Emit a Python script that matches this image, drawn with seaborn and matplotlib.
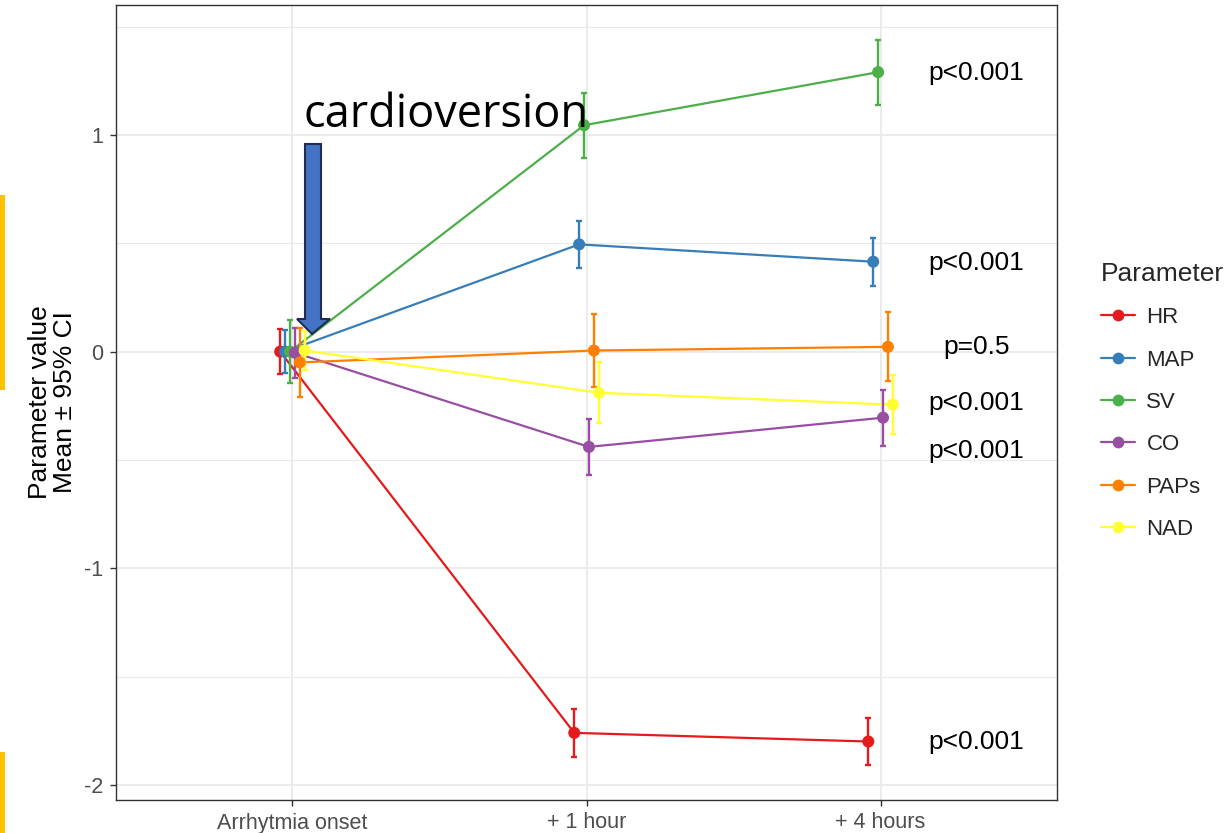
import numpy as np
import pandas as pd
import matplotlib
matplotlib.use("Agg")
import matplotlib.pyplot as plt
import seaborn as sns
from matplotlib.lines import Line2D
from matplotlib.patches import Polygon, Rectangle

# ---------------- data ----------------
categories = ["Arrhytmia onset", "+ 1 hour", "+ 4 hours"]
params = ["HR", "MAP", "SV", "CO", "PAPs", "NAD"]
colors = ["#E41A1C", "#377EB8", "#4DAF4A", "#984EA3", "#FF7F00", "#FFFF33"]

HR_mean = [0.0, -1.76, -1.80]
MAP_mean = [0.0, 0.495, 0.415]
SV_mean = [0.0, 1.045, 1.29]
CO_mean = [-0.005, -0.44, -0.305]
PAPs_mean = [-0.05, 0.005, 0.022]
NAD_mean = [0.005, -0.19, -0.245]

HR_ci = [0.105, 0.11, 0.11]
MAP_ci = [0.10, 0.11, 0.11]
SV_ci = [0.145, 0.15, 0.15]
CO_ci = [0.115, 0.13, 0.13]
PAPs_ci = [0.16, 0.17, 0.16]
NAD_ci = [0.09, 0.14, 0.135]

p_labels = ["p<0.001", "p<0.001", "p=0.5", "p<0.001", "p<0.001", "p<0.001"]

means = [HR_mean, MAP_mean, SV_mean, CO_mean, PAPs_mean, NAD_mean]
cis = [HR_ci, MAP_ci, SV_ci, CO_ci, PAPs_ci, NAD_ci]

dodge_width = 0.1
rows = []
for gi, (p, m, c) in enumerate(zip(params, means, cis)):
    off = (gi - (len(params) - 1) / 2) * dodge_width / len(params)
    for ci_, cat in enumerate(categories):
        rows.append(dict(Parameter=p, Time=cat, x=ci_ + off, mean=m[ci_], ci=c[ci_]))
df = pd.DataFrame(rows)

# ---------------- figure ----------------
sns.set_theme(style="white")
plt.rcParams["font.family"] = ["Liberation Sans", "DejaVu Sans"]

W, H = 1229, 833
fig = plt.figure(figsize=(W / 100, H / 100), dpi=100)
ax = fig.add_axes([116 / W, 1 - 800 / H, (1057 - 116) / W, (800 - 5) / H])

palette = dict(zip(params, colors))
sns.lineplot(data=df, x="x", y="mean", hue="Parameter", palette=palette,
             hue_order=params, ax=ax, linewidth=1.6, legend=False, zorder=3,
             sort=True, estimator=None)
for p in params:
    sub = df[df.Parameter == p]
    ax.errorbar(sub["x"], sub["mean"], yerr=sub["ci"], fmt="none",
                ecolor=palette[p], elinewidth=1.7, capsize=2.2, capthick=1.7, zorder=4)
    ax.scatter(sub["x"], sub["mean"], s=75, color=palette[p], edgecolor="none", zorder=5)

ax.set_xlim(-0.6, 2.6)
ax.set_ylim(-2.07, 1.60)
ax.set_xticks(range(len(categories)))
ax.set_xticklabels(categories)
ax.set_yticks([-2, -1, 0, 1])
ax.set_yticklabels(["-2", "-1", "0", "1"])
ax.set_yticks([-1.5, -0.5, 0.5, 1.5], minor=True)
ax.grid(True, which="major", color="#EBEBEB", linewidth=1.4, zorder=0)
ax.grid(True, which="minor", axis="y", color="#EBEBEB", linewidth=0.8, zorder=0)
ax.set_axisbelow(True)
for s in ax.spines.values():
    s.set_color("#333333")
    s.set_linewidth(1.0)
ax.tick_params(axis="both", which="major", length=4, width=1.0, color="#333333",
               labelsize=15.5, labelcolor="#4D4D4D", left=True, bottom=True)
ax.tick_params(axis="x", which="major", pad=5)
ax.tick_params(axis="y", which="major", pad=5)
ax.tick_params(axis="both", which="minor", length=0)
ax.set_xlabel("")
ax.set_ylabel("Parameter value\nMean ± 95% CI", fontsize=19, color="black",
              linespacing=1.08, labelpad=5)

# p-value annotations (right of panel), positions in pixels (left x, baseline y)
p_pos = [(928, 80), (928, 270), (943, 354), (928, 410), (928, 458), (928, 749)]
for lab, (px, py) in zip(p_labels, p_pos):
    fig.text(px / W, 1 - py / H, lab, fontsize=19, ha="left", va="baseline", color="black")

# legend
handles = [Line2D([0], [0], color=c, lw=1.6, marker="o", markersize=8.5,
                  markeredgewidth=0) for c in colors]
leg = fig.legend(handles, params, title="Parameter", loc="upper left",
                 bbox_to_anchor=(1092 / W, 1 - 253 / H), frameon=False,
                 fontsize=16, title_fontsize=19, handlelength=1.55,
                 handletextpad=0.5, labelspacing=0.96, borderaxespad=0)
leg._legend_box.align = "left"
leg._legend_box._children[1].sep = leg._legend_box._children[1].sep + 4

# cardioversion annotation
fig.text(304 / W, 1 - 127 / H, "cardioversion", fontsize=32.5, family="Open Sans",
         ha="left", va="baseline", color="black")
arrow_px = [(305, 144), (321, 144), (321, 319), (330, 319), (312, 334), (297, 319), (305, 319)]
arrow = Polygon([(x / W, 1 - y / H) for x, y in arrow_px], closed=True,
                transform=fig.transFigure, facecolor="#4472C4", edgecolor="#1F2D50",
                linewidth=1.5, zorder=10)
fig.patches.append(arrow)

# yellow slide bars at the left edge
for y0, y1 in [(195, 390), (752, 833)]:
    fig.patches.append(Rectangle((0, 1 - y1 / H), 5 / W, (y1 - y0) / H,
                                 transform=fig.transFigure, facecolor="#FFC000",
                                 edgecolor="none"))

fig.savefig("out.png", dpi=100)
